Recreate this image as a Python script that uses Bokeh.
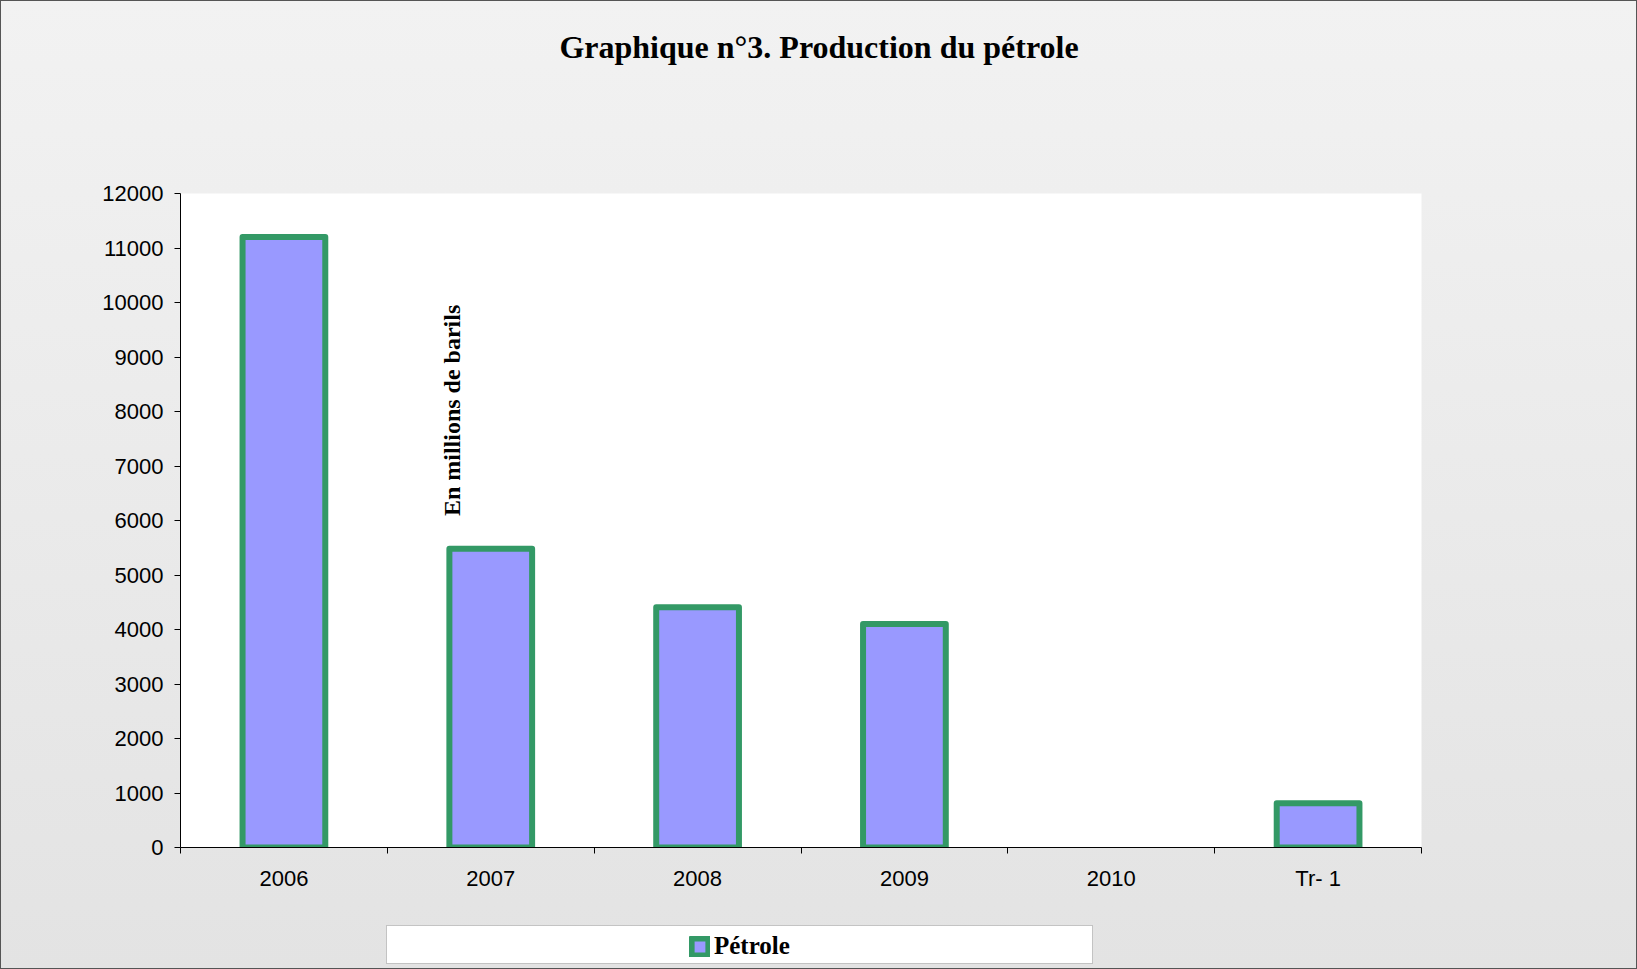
import math
import numpy as np
from bokeh.plotting import figure
from bokeh.layouts import column
from bokeh.models import (Range1d, FixedTicker, Label, Legend, LegendItem,
                          BoxAnnotation, ColumnDataSource)
from bokeh.embed import file_html
from bokeh.resources import INLINE

# ---- data ----
categories = ["2006", "2007", "2008", "2009", "2010", "Tr- 1"]
production = [11200, 5480, 4410, 4100, float("nan"), 810]
y_ticks = [0, 1000, 2000, 3000, 4000, 5000, 6000, 7000, 8000, 9000, 10000, 11000, 12000]

title_text = "Graphique n°3. Production du pétrole"
unit_text = "En millions de barils"
series_name = "Pétrole"

FILL = "#9999ff"
EDGE = "#339966"
W = 1637
LEFT, RIGHT = 180, 216          # borders shared by all strips (frames align)
FX0, FX1 = LEFT, W - RIGHT      # frame x extent in page pixels


def bare(fig):
    fig.border_fill_alpha = 0
    fig.outline_line_color = None
    for g in fig.grid:
        g.visible = False


# ---- title strip (page-pixel coordinates, y downwards) ----
TH = 150
title_fig = figure(width=W, height=TH, output_backend="svg", toolbar_location=None,
                   x_range=Range1d(FX0, FX1), y_range=Range1d(TH, 0),
                   x_axis_location=None, y_axis_location=None, title=None,
                   min_border_left=LEFT, min_border_right=RIGHT,
                   min_border_top=0, min_border_bottom=0)
bare(title_fig)
title_fig.background_fill_alpha = 0
title_fig.add_layout(Label(x=818.5, y=46, text=title_text,
                           text_align="center", text_baseline="middle",
                           text_font="Liberation Serif", text_font_style="bold",
                           text_font_size="32px", text_color="black"))

# ---- main chart ----
MH = 755
p = figure(width=W, height=MH, output_backend="svg", toolbar_location=None,
           x_range=Range1d(0, len(categories)), y_range=Range1d(0, 12000),
           min_border_left=LEFT, min_border_right=RIGHT,
           min_border_top=43, min_border_bottom=58, title=None)
bare(p)
p.background_fill_color = "white"

centers = [i + 0.5 for i in range(len(categories))]
bounds = list(range(len(categories) + 1))
source = ColumnDataSource(dict(x=centers, top=np.array(production, dtype=float)))

bars = p.vbar(x="x", top="top", bottom=0, width=0.4, source=source,
              fill_color=FILL, line_color=EDGE, line_width=6, line_join="round")

yax = p.yaxis[0]
yax.ticker = FixedTicker(ticks=y_ticks)
yax.axis_line_color = "black"
yax.major_tick_line_color = "black"
yax.major_tick_out = 6
yax.major_tick_in = 0
yax.minor_tick_line_color = None
yax.major_label_standoff = 11
yax.major_label_text_font = "Liberation Sans"
yax.major_label_text_font_size = "22px"
yax.major_label_text_color = "black"

xax = p.xaxis[0]
xax.ticker = FixedTicker(ticks=centers, minor_ticks=bounds)
xax.major_label_overrides = {c: lab for c, lab in zip(centers, categories)}
xax.axis_line_color = "black"
xax.major_tick_line_color = None
xax.major_tick_out = 0
xax.major_tick_in = 0
xax.minor_tick_line_color = "black"
xax.minor_tick_out = 6
xax.minor_tick_in = 0
xax.major_label_standoff = 12
xax.major_label_text_font = "Liberation Sans"
xax.major_label_text_font_size = "22px"
xax.major_label_text_color = "black"

p.add_layout(Label(x=1.315, y=8020, text=unit_text, angle=math.pi / 2,
                   text_align="center", text_baseline="middle",
                   text_font="Liberation Serif", text_font_style="bold",
                   text_font_size="24px", text_color="black"))

# ---- legend strip (page-pixel coordinates, y downwards) ----
LY0 = TH + MH
LH = 969 - LY0
leg_fig = figure(width=W, height=LH, output_backend="svg", toolbar_location=None,
                 x_range=Range1d(FX0, FX1), y_range=Range1d(969, LY0),
                 x_axis_location=None, y_axis_location=None, title=None,
                 min_border_left=LEFT, min_border_right=RIGHT,
                 min_border_top=0, min_border_bottom=0)
bare(leg_fig)
leg_fig.background_fill_alpha = 0
leg_fig.add_layout(BoxAnnotation(left=386, right=1092, top=925, bottom=963,
                                 fill_color="white", fill_alpha=1,
                                 line_color="#5a5a5a", line_width=1))
# same series, hidden here: only feeds the legend swatch
swatch = leg_fig.vbar(x="x", top="top", bottom=0, width=0.4, source=source,
                      fill_color=FILL, line_color=EDGE, line_width=6,
                      line_join="round", visible=False)
legend = Legend(items=[LegendItem(label=series_name, renderers=[swatch])],
                location=(509, 9), orientation="horizontal",
                padding=0, margin=0, glyph_width=21, glyph_height=21,
                label_standoff=4, border_line_color=None,
                background_fill_alpha=0, inactive_fill_alpha=0,
                label_text_font="Liberation Serif", label_text_font_style="bold",
                label_text_font_size="25px", label_text_color="black")
leg_fig.add_layout(legend, "center")

page = column(title_fig, p, leg_fig, spacing=0,
              styles={"background": "linear-gradient(to bottom, #f2f2f2, #e3e3e3)",
                      "outline": "1px solid #555555", "outline-offset": "-1px"})

open("out.html", "w").write(file_html(page, INLINE))
